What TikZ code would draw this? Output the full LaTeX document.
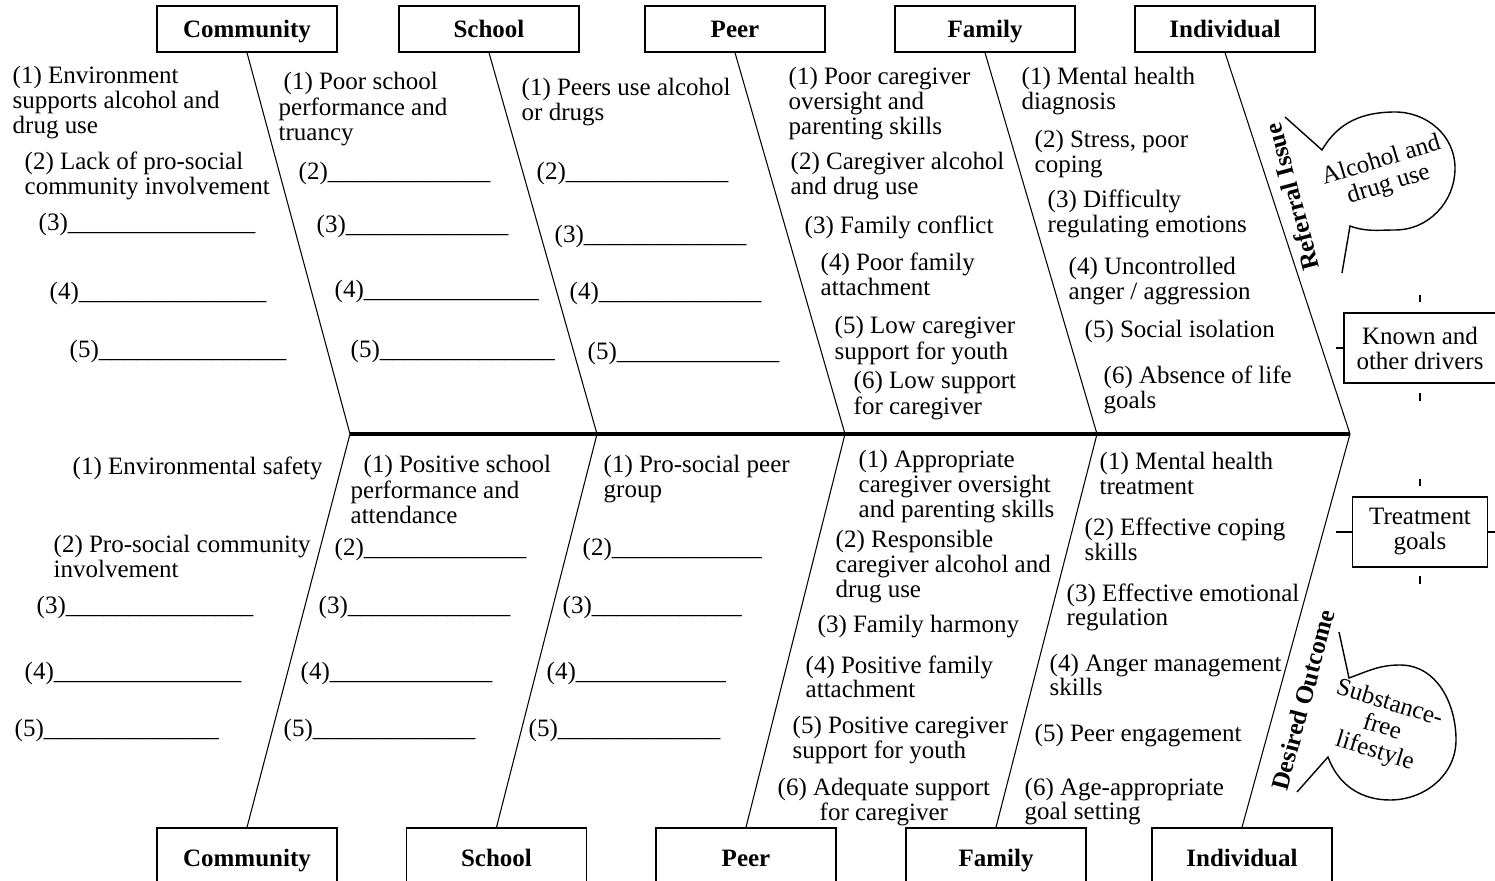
\documentclass[tikz,border=0pt]{standalone}
\usepackage{fontspec}
\setmainfont{Liberation Serif}
\newcommand{\fs}{\fontsize{7.11pt}{7.11pt}\selectfont}
\newcommand{\blanks}[1]{\foreach \ii in {1,...,#1}{\_}}
\newcommand{\lns}[1]{\begin{tabular}[t]{@{}l@{}}#1\end{tabular}}
\newcommand{\clns}[1]{\begin{tabular}[t]{@{}c@{}}#1\end{tabular}}

\begin{document}
\begin{tikzpicture}[inner sep=0pt,
  catbox/.style={rectangle,draw=black,line width=0.4pt,minimum width=1.8cm,text height=0.17cm,text depth=0pt,font=\fs\bfseries},
  item/.style={anchor=base west,font=\fs},
  bone/.style={draw=black,line width=0.3pt},
  tick/.style={draw=black,line width=0.3pt}]

\clip (0,0) rectangle (14.95,8.8);

\node[catbox,minimum height=0.46cm] (cT) at (2.47,8.51) {Community};
\node[catbox,minimum height=0.46cm] (sT) at (4.89,8.51) {School};
\node[catbox,minimum height=0.46cm] (pT) at (7.35,8.51) {Peer};
\node[catbox,minimum height=0.46cm] (fT) at (9.85,8.51) {Family};
\node[catbox,minimum height=0.46cm] (iT) at (12.25,8.51) {Individual};

\node[catbox,minimum height=0.60cm] (cB) at (2.47,0.22) {Community};
\node[catbox,minimum height=0.60cm] (sB) at (4.965,0.22) {School};
\node[catbox,minimum height=0.60cm] (pB) at (7.46,0.22) {Peer};
\node[catbox,minimum height=0.60cm] (fB) at (9.96,0.22) {Family};
\node[catbox,minimum height=0.60cm] (iB) at (12.42,0.22) {Individual};

\coordinate (j1) at (3.50,4.46);
\coordinate (j2) at (5.97,4.46);
\coordinate (j3) at (8.45,4.46);
\coordinate (j4) at (10.97,4.46);
\coordinate (j5) at (13.50,4.46);

\draw[bone] (cT.south) -- (j1) -- (cB.north);
\draw[bone] (sT.south) -- (j2) -- (sB.north);
\draw[bone] (pT.south) -- (j3) -- (pB.north);
\draw[bone] (fT.south) -- (j4) -- (fB.north);
\draw[bone] (iT.south) -- (j5) -- (iB.north);
\draw[line width=1.1pt] (j1) -- (j5);

\node[item] (tc1) at (0.12,7.96) {\lns{(1) Environment\\supports alcohol and\\drug use}};
\node[item] (tc2) at (0.24,7.10) {\lns{(2) Lack of pro-social\\community involvement}};
\node[item] (tc3) at (0.38,6.49) {(3)\blanks{15}};
\node[item] (tc4) at (0.49,5.80) {(4)\blanks{15}};
\node[item] (tc5) at (0.69,5.22) {(5)\blanks{15}};

\node[item] (ts1) at (2.78,7.90) {\lns{\hspace{0.05cm}(1) Poor school\\performance and\\truancy}};
\node[item] (ts2) at (2.98,7.00) {(2)\blanks{13}};
\node[item] (ts3) at (3.16,6.47) {(3)\blanks{13}};
\node[item] (ts4) at (3.34,5.82) {(4)\blanks{14}};
\node[item] (ts5) at (3.50,5.22) {(5)\blanks{14}};

\node[item] (tp1) at (5.21,7.84) {\lns{(1) Peers use alcohol\\or drugs}};
\node[item] (tp2) at (5.36,7.00) {(2)\blanks{13}};
\node[item] (tp3) at (5.54,6.37) {(3)\blanks{13}};
\node[item] (tp4) at (5.69,5.80) {(4)\blanks{13}};
\node[item] (tp5) at (5.87,5.20) {(5)\blanks{13}};

\node[item] (tf1) at (7.88,7.95) {\lns{(1) Poor caregiver\\oversight and\\parenting skills}};
\node[item] (tf2) at (7.90,7.10) {\lns{(2) Caregiver alcohol\\and drug use}};
\node[item] (tf3) at (8.04,6.46) {(3) Family conflict};
\node[item] (tf4) at (8.20,6.09) {\lns{(4) Poor family\\attachment}};
\node[item] (tf5) at (8.34,5.46) {\lns{(5) Low caregiver\\support for youth}};
\node[item] (tf6) at (8.53,4.91) {\lns{(6) Low support\\for caregiver}};

\node[item] (ti1) at (10.21,7.95) {\lns{(1) Mental health\\diagnosis}};
\node[item] (ti2) at (10.34,7.32) {\lns{(2) Stress, poor\\coping}};
\node[item] (ti3) at (10.47,6.72) {\lns{(3) Difficulty\\regulating emotions}};
\node[item] (ti4) at (10.68,6.05) {\lns{(4) Uncontrolled\\anger / aggression}};
\node[item] (ti5) at (10.84,5.42) {(5) Social isolation};
\node[item] (ti6) at (11.03,4.96) {\lns{(6) Absence of life\\goals}};

\node[item] (bc1) at (0.72,4.05) {(1) Environmental safety};
\node[item] (bc2) at (0.53,3.27) {\lns{(2) Pro-social community\\involvement}};
\node[item] (bc3) at (0.36,2.67) {(3)\blanks{15}};
\node[item] (bc4) at (0.24,2.00) {(4)\blanks{15}};
\node[item] (bc5) at (0.14,1.44) {(5)\blanks{14}};

\node[item] (bs1) at (3.50,4.07) {\lns{\hspace{0.13cm}(1) Positive school\\performance and\\attendance}};
\node[item] (bs2) at (3.34,3.24) {(2)\blanks{13}};
\node[item] (bs3) at (3.18,2.67) {(3)\blanks{13}};
\node[item] (bs4) at (3.00,2.00) {(4)\blanks{13}};
\node[item] (bs5) at (2.83,1.44) {(5)\blanks{13}};

\node[item] (bp1) at (6.03,4.07) {\lns{(1) Pro-social peer\\group}};
\node[item] (bp2) at (5.82,3.24) {(2)\blanks{12}};
\node[item] (bp3) at (5.62,2.67) {(3)\blanks{12}};
\node[item] (bp4) at (5.46,2.00) {(4)\blanks{12}};
\node[item] (bp5) at (5.28,1.44) {(5)\blanks{13}};

\node[item] (bf1) at (8.58,4.12) {\lns{(1) Appropriate\\caregiver oversight\\and parenting skills}};
\node[item] (bf2) at (8.35,3.32) {\lns{(2) Responsible\\caregiver alcohol and\\drug use}};
\node[item] (bf3) at (8.17,2.47) {(3) Family harmony};
\node[item] (bf4) at (8.05,2.07) {\lns{(4) Positive family\\attachment}};
\node[item] (bf5) at (7.92,1.47) {\lns{(5) Positive caregiver\\support for youth}};
\node[item] (bf6) at (7.77,0.85) {\clns{(6) Adequate support\\for caregiver}};

\node[item] (bi1) at (10.99,4.10) {\lns{(1) Mental health\\treatment}};
\node[item] (bi2) at (10.84,3.44) {\lns{(2) Effective coping\\skills}};
\node[item] (bi3) at (10.66,2.79) {\lns{(3) Effective emotional\\regulation}};
\node[item] (bi4) at (10.49,2.09) {\lns{(4) Anger management\\skills}};
\node[item] (bi5) at (10.34,1.39) {(5) Peer engagement};
\node[item] (bi6) at (10.24,0.85) {\lns{(6) Age-appropriate\\goal setting}};

\node[rectangle,draw=black,line width=0.4pt,minimum width=1.52cm,minimum height=0.70cm,align=center,font=\fs] (known) at (14.20,5.32) {Known and\\other drivers};
\draw[tick] ([yshift=0.10cm]known.north) -- ++(0,0.07);
\draw[tick] ([yshift=-0.09cm]known.south) -- ++(0,-0.08);
\draw[tick] (known.west) -- ++(-0.07,0);

\node[rectangle,draw=black,line width=0.4pt,minimum width=1.35cm,minimum height=0.70cm,align=center,font=\fs] (treat) at (14.20,3.48) {Treatment\\goals};
\draw[tick] ([yshift=0.10cm]treat.north) -- ++(0,0.07);
\draw[tick] ([yshift=-0.08cm]treat.south) -- ++(0,-0.08);
\draw[tick] (treat.west) -- ++(-0.16,0);
\draw[tick] (treat.east) -- ++(0.07,0);

\draw[line width=0.4pt] (12.85,7.63) -- (13.22,7.30) to[out=60,in=180] (13.95,7.68) to[out=0,in=90] (14.55,7.12) to[out=-90,in=0] (13.95,6.50) to[out=180,in=-20] (13.50,6.54) -- (13.42,6.07);
\draw[line width=0.4pt] (13.39,2.48) -- (13.49,2.02) to[out=20,in=180] (14.00,2.15) to[out=0,in=90] (14.56,1.40) to[out=-90,in=0] (13.90,0.80) to[out=180,in=-70] (13.28,1.23) -- (12.97,0.88);

\node[font=\fs,align=center,rotate=17] (alc) at (13.85,7.07) {Alcohol and\\drug use};
\node[font=\fs,align=center,rotate=-17] (subst) at (13.82,1.52) {Substance-\\free\\lifestyle};
\node[font=\fs\bfseries,rotate=105] (refi) at (12.92,6.83) {Referral Issue};
\node[font=\fs\bfseries,rotate=75] (deso) at (13.03,1.80) {Desired Outcome};

\end{tikzpicture}
\end{document}
